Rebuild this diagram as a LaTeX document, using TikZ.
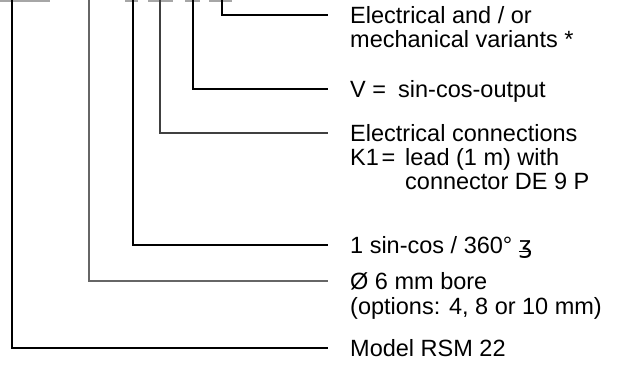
\documentclass[tikz,border=0pt]{standalone}
\usepackage{fontspec}
\setmainfont{Liberation Sans}
\newfontfamily\dejavu{DejaVu Sans}
\newcommand\elangle{\rlap{\dejavu ʒ}\raisebox{0.04em}{\rule{0.5em}{0.06em}}}
\begin{document}
\begin{tikzpicture}[x=1pt,y=-1pt,
  lbl/.style={anchor=base west,inner sep=0pt,font=\fontsize{23.5}{24}\selectfont},
  leadline/.style={line width=1.1pt,draw=black},
  topdash/.style={fill=black!35,draw=none}]
\useasboundingbox (0,0) rectangle (627,367);
% top grey dashes
\fill[topdash] (0,0) rectangle (50,1.6);
\fill[topdash] (125,0) rectangle (138,1.6);
\fill[topdash] (148,0) rectangle (173,1.6);
\fill[topdash] (185,0) rectangle (200,1.6);
\fill[topdash] (209,0) rectangle (232,1.6);
% top ends of leads
\coordinate (c1) at (12,0);
\coordinate (c2) at (89,0);
\coordinate (c3) at (133,0);
\coordinate (c4) at (160,0);
\coordinate (c5) at (193,0);
\coordinate (c6) at (222,0);
% texts
\node[lbl] (t6) at (350,23) {Electrical and / or};
\node[lbl] (t6b) at (350,47) {mechanical variants *};
\node[lbl] (t5) at (350,97) {V =};
\node[lbl] (t5b) at (398,97) {sin-cos-output};
\node[lbl] (t4) at (350,141) {Electrical connections};
\node[lbl] (t4b) at (350,165) {K1\hspace{0.12em}=};
\node[lbl] (t4c) at (405,165) {lead (1 m) with};
\node[lbl] (t4d) at (405,189) {connector DE 9 P};
\node[lbl] (t3) at (350,253) {1 sin-cos / 360° \elangle};
\node[lbl] (t2) at (350,289) {Ø 6 mm bore};
\node[lbl] (t2b) at (350,314) {(options: 4, 8 or 10 mm)};
\node[lbl] (t1) at (350,356) {Model RSM 22};
% end points of leads
\coordinate (e6) at (328,15);
\coordinate (e5) at (328,89);
\coordinate (e4) at (328,133);
\coordinate (e3) at (328,245);
\coordinate (e2) at (328,281);
\coordinate (e1) at (328,348);
\draw[leadline] (c6) |- (e6);
\draw[leadline] (c5) |- (e5);
\draw[leadline,draw=black!75] (c4) |- (e4);
\draw[leadline] (c3) |- (e3);
\draw[leadline,draw=black!60] (c2) |- (e2);
\draw[leadline] (c1) |- (e1);
\end{tikzpicture}
\end{document}
